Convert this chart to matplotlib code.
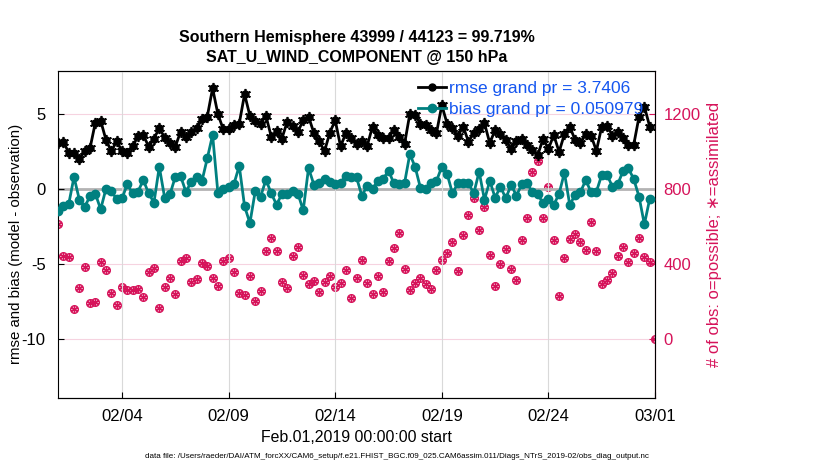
"""Time series of rmse / bias and obs counts for one DART obs_diag region."""

import numpy as np
import pandas as pd
import matplotlib

matplotlib.use("Agg")
import matplotlib.pyplot as plt

plt.rcParams["font.family"] = ["Liberation Sans", "DejaVu Sans"]
plt.rcParams["axes.unicode_minus"] = False

# ---- data (6-hourly bins from Feb 01 00Z) ----
rmse = [
    3.10, 3.18, 2.44, 2.40, 2.00, 2.55, 2.73, 4.44, 4.57, 3.29,
    2.53, 3.20, 2.55, 2.45, 2.86, 3.53, 3.62, 2.84, 3.38, 4.07,
    3.45, 3.11, 2.84, 3.84, 3.51, 3.84, 4.06, 4.66, 4.84, 6.73,
    5.00, 4.00, 4.00, 4.29, 4.38, 6.34, 4.89, 4.55, 4.38, 4.90,
    3.51, 3.86, 3.38, 4.51, 4.20, 3.82, 4.62, 4.84, 3.75, 3.20,
    2.55, 3.78, 4.60, 2.86, 3.73, 3.40, 3.05, 3.22, 2.90, 4.18,
    3.60, 3.44, 3.45, 3.95, 3.51, 3.00, 5.03, 4.93, 4.38, 4.26,
    3.92, 3.75, 5.60, 4.36, 4.05, 3.55, 4.18, 3.18, 3.73, 4.02,
    4.40, 3.07, 3.96, 3.67, 3.29, 2.69, 3.22, 3.36, 2.96, 2.62,
    2.29, 3.36, 2.69, 3.62, 2.49, 3.67, 4.18, 3.29, 3.07, 3.67,
    3.58, 2.56, 4.18, 4.24, 3.58, 3.84, 3.40, 2.96, 2.96, 4.84,
    5.51, 4.18, np.nan,
]
bias = [
    -1.46, -1.13, -1.00, 0.82, -0.69, -1.16, -0.47, -0.29, -1.33, 0.04,
    -0.12, -0.65, -0.60, 0.33, -0.27, -0.16, 0.62, -0.27, -0.88, 1.50,
    -0.55, -0.33, 0.82, 0.88, -0.18, 0.51, 0.82, 0.54, 2.06, 3.62,
    -0.27, 0.00, 0.18, 0.35, 1.56, -1.14, -2.25, -0.12, -0.50, 0.64,
    -0.27, -1.02, -0.32, -0.28, -0.13, -0.28, -1.40, 1.42, 0.31, 0.44,
    0.69, 0.50, 0.32, 0.45, 0.90, 0.84, 0.79, -0.43, 0.22, 0.01,
    0.57, 0.68, 1.25, 0.40, 0.33, 0.40, 2.35, 1.48, 0.08, 0.01,
    0.40, 0.55, 1.51, 1.02, -0.27, 0.40, 0.40, 0.40, -0.27, 1.18,
    -0.70, 0.56, -0.56, 0.18, -0.60, 0.29, -0.42, 0.33, 0.40, -0.20,
    -0.33, -0.93, -0.64, -1.04, -0.30, 1.11, -1.04, -0.38, -0.20, 0.62,
    -0.20, -0.16, 0.96, 0.96, 0.18, 0.33, 1.22, 1.40, 0.69, -0.49,
    -2.33, -0.64, np.nan,
]
nobs = [
    613, 444, 437, 160, 272, 384, 192, 201, 411, 370,
    245, 183, 277, 263, 263, 268, 228, 357, 379, 165,
    277, 325, 240, 418, 432, 304, 322, 405, 391, 325,
    286, 418, 432, 357, 245, 236, 338, 206, 258, 471,
    539, 471, 304, 276, 444, 491, 343, 293, 311, 251,
    308, 338, 281, 299, 370, 222, 329, 423, 299, 240,
    338, 251, 418, 485, 565, 375, 263, 299, 329, 293,
    268, 370, 423, 459, 521, 364, 557, 663, 752, 583,
    708, 450, 286, 400, 482, 375, 316, 530, 645, 891,
    951, 649, 814, 530, 231, 436, 535, 560, 521, 476,
    628, 471, 295, 316, 352, 446, 494, 411, 459, 542,
    441, 411, 0,
]
tick_days = [3, 8, 13, 18, 23, 28]
tick_labels = ["02/04", "02/09", "02/14", "02/19", "02/24", "03/01"]
rmse_label = "rmse grand pr = 3.7406"
bias_label = "bias grand pr = 0.050979"
title_lines = ["Southern Hemisphere 43999 / 44123 = 99.719%",
               "SAT_U_WIND_COMPONENT @ 150 hPa"]
data_file = ("data file: /Users/raeder/DAI/ATM_forcXX/CAM6_setup/"
             "f.e21.FHIST_BGC.f09_025.CAM6assim.011/Diags_NTrS_2019-02/obs_diag_output.nc")

TEAL = "#008080"
CRIMSON = "#d6135a"
PINK = "#f6d3e0"
BLUE = "#1556f0"


def main() -> None:
    times = pd.date_range("2019-02-01", periods=len(nobs), freq="6h")
    days = np.asarray((times - times[0]) / pd.Timedelta(days=1), dtype=float)

    fig = plt.figure(figsize=(8.3, 4.7), dpi=100)
    ax = fig.add_axes([0.0699, 0.1532, 0.7193, 0.6964])
    ax2 = ax.twinx()

    # right axis: obs counts, pink grid
    ax2.set_ylim(-312, 1432)
    ax2.set_yticks([0, 400, 800, 1200])
    ax2.tick_params(axis="y", direction="in", colors=CRIMSON, labelsize=12, length=4, pad=6)
    ax2.spines["right"].set_color(CRIMSON)
    ax2.spines["left"].set_visible(False)
    ax2.grid(True, axis="y", color=PINK, lw=0.8)
    ax2.set_ylabel("# of obs: o=possible; \u2217=assimilated", color=CRIMSON, fontsize=12, labelpad=5)
    ax2.plot(days, nobs, ls="none", marker="o", ms=5.5, mfc="none", mec=CRIMSON, mew=1.0)
    ax2.plot(days, nobs, ls="none", marker=(6, 2, 0), ms=5.5, mec=CRIMSON, mew=1.0)

    # left axis: rmse and bias
    ax.set_xlim(0, 28)
    ax.set_ylim(-13.9, 7.9)
    ax.set_yticks([-10, -5, 0, 5])
    ax.set_xticks(tick_days)
    ax.set_xticklabels(tick_labels)
    ax.tick_params(direction="in", labelsize=12, length=4)
    ax.tick_params(axis="x", pad=8)
    ax.tick_params(axis="y", pad=9)
    ax.grid(True, axis="x", color="#d9d9d9", lw=0.8)
    ax.axhline(0, color="#b3b3b3", lw=2, zorder=1)
    ax.plot(days, rmse, color="black", lw=2, marker="o", ms=5, label=rmse_label, zorder=3)
    ax.plot(days, rmse, ls="none", marker=(6, 2, 0), ms=8, mec="black", mew=1.2, zorder=3)
    ax.plot(days, bias, color=TEAL, lw=2, marker="o", ms=6, label=bias_label, zorder=3)
    ax.set_zorder(ax2.get_zorder() + 1)
    ax.patch.set_visible(False)

    ax.set_ylabel("rmse and bias (model - observation)", fontsize=10.8)
    ax.yaxis.set_label_coords(-0.058, 0.47)
    ax.set_xlabel("Feb.01,2019 00:00:00 start", fontsize=11.4, labelpad=4)
    ax.set_title("\n".join(title_lines), fontsize=11.5, fontweight="bold", pad=6,
                 linespacing=1.45)

    leg = ax.legend(loc="upper left", bbox_to_anchor=(0.603, 0.968), frameon=False,
                    fontsize=12.5, handlelength=1.6, handletextpad=0.2,
                    borderaxespad=0, borderpad=0, labelspacing=0.3)
    for text in leg.get_texts():
        text.set_color(BLUE)

    fig.text(0.478, 0.025, data_file, fontsize=5.8, ha="center")
    fig.savefig("out.png", dpi=100)
    plt.close(fig)


if __name__ == "__main__":
    main()
